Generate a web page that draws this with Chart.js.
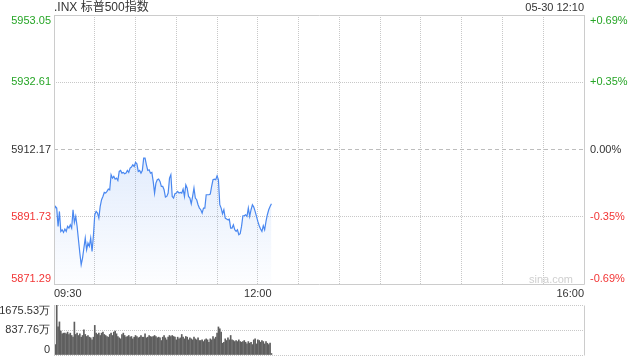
<!DOCTYPE html>
<html>
<head>
<meta charset="utf-8">
<script src="https://cdn.jsdelivr.net/npm/chart.js@4.4.1/dist/chart.umd.min.js"></script>
<style>
  body { margin: 0; background: #fff; font-family: Arial, "Liberation Sans", "Noto Sans CJK SC", sans-serif; }
  #wrap { position: relative; width: 640px; height: 360px; overflow: hidden; }
  #priceBox { position: absolute; left: 0; top: 0; width: 640px; height: 300px; }
  #volBox { position: absolute; left: 0; top: 300px; width: 640px; height: 60px; }
  .txt { position: absolute; font-size: 12px; color: #333; line-height: 14px; white-space: nowrap; }
</style>
</head>
<body>
<div id="wrap">
  <div id="priceBox"><canvas id="priceChart"></canvas></div>
  <div id="volBox"><canvas id="volChart"></canvas></div>
  <div class="txt" style="left:54px;top:0;">.INX 标普500指数</div>
  <div class="txt" style="right:56px;top:0;font-size:11px;">05-30 12:10</div>
  <div class="txt" style="right:67px;top:272px;font-size:11px;color:#cfcfcf;">sina.com</div>
</div>
<script>
// previous close, the 0.00% line
const baseClose = 5912.17;
const priceTicks = [5871.29, 5891.73, 5912.17, 5932.61, 5953.05];
const pctLabels = ["-0.69%", "-0.35%", "0.00%", "+0.35%", "+0.69%"];
// minutes since 09:30
const timeTickMinutes = [0, 150, 390];
const timeTickLabels = ["09:30", "12:00", "16:00"];
const volTicks = [0, 837.76, 1675.53];
const volLabels = ["0", "837.76万", "1675.53万"];

// one value per minute, 09:30 -> 12:10
const prices = [
  5893.55, 5894.87, 5894.36, 5888.80, 5893.35, 5887.28, 5887.78, 5886.97, 5887.99, 5887.28,
  5888.80, 5888.29, 5889.30, 5888.29, 5893.86, 5890.01, 5891.83, 5888.80, 5884.75, 5880.70,
  5877.16, 5879.18, 5882.22, 5885.25, 5881.71, 5883.74, 5882.72, 5885.25, 5881.20, 5885.96,
  5892.34, 5893.35, 5892.85, 5891.33, 5894.87, 5896.90, 5897.91, 5899.12, 5898.92, 5899.43,
  5900.13, 5899.93, 5904.49, 5903.48, 5903.98, 5903.17, 5903.48, 5902.77, 5905.50, 5905.80,
  5904.99, 5905.20, 5904.79, 5904.99, 5905.80, 5905.20, 5906.51, 5906.82, 5907.52, 5907.02,
  5908.23, 5907.83, 5905.50, 5905.80, 5904.99, 5905.80, 5909.55, 5909.55, 5907.52, 5905.80,
  5906.01, 5904.99, 5905.20, 5902.46, 5898.92, 5901.96, 5902.97, 5903.17, 5902.46, 5900.94,
  5900.94, 5899.93, 5897.71, 5897.91, 5898.92, 5903.48, 5904.49, 5897.91, 5897.40, 5898.72,
  5898.92, 5899.43, 5898.92, 5899.12, 5898.92, 5900.13, 5897.91, 5901.45, 5900.44, 5897.91,
  5897.40, 5895.68, 5897.91, 5900.44, 5897.40, 5896.90, 5895.38, 5894.36, 5893.86, 5892.85,
  5894.36, 5894.36, 5898.41, 5898.41, 5898.41, 5898.62, 5900.94, 5902.97, 5903.17, 5902.97,
  5904.18, 5902.97, 5895.38, 5894.36, 5892.64, 5893.86, 5891.33, 5891.02, 5890.82, 5891.02,
  5888.29, 5888.29, 5889.30, 5887.78, 5887.28, 5887.78, 5886.27, 5886.57, 5888.80, 5892.04,
  5892.04, 5892.34, 5891.83, 5894.36, 5891.83, 5893.86, 5895.38, 5894.67, 5893.35, 5891.83,
  5890.32, 5889.00, 5887.99, 5887.28, 5889.00, 5887.78, 5890.32, 5892.34, 5893.86, 5894.87,
  5895.68
];

// volume per minute, in 万
const volumes = [
  1273, 349, 1675, 940, 1109, 805, 710, 733, 733, 710, 766, 688, 733, 654, 597,
  1104, 688, 733, 654, 710, 597, 654, 845, 688, 620, 654, 597, 575, 507, 597,
  992, 733, 688, 733, 654, 733, 766, 688, 654, 620, 597, 688, 733, 654, 766,
  800, 710, 620, 575, 541, 688, 733, 654, 597, 620, 654, 597, 620, 541, 597,
  654, 620, 575, 597, 654, 597, 597, 710, 575, 597, 654, 620, 597, 620, 654,
  620, 575, 597, 575, 485, 597, 654, 575, 507, 597, 654, 620, 654, 620, 597,
  507, 597, 541, 575, 688, 597, 541, 620, 597, 507, 575, 541, 507, 597, 541,
  507, 575, 485, 485, 507, 450, 507, 541, 507, 428, 541, 507, 620, 541, 597,
  733, 940, 879, 766, 394, 428, 541, 485, 575, 507, 654, 507, 485, 450, 485,
  450, 507, 450, 428, 450, 485, 428, 372, 450, 394, 428, 349, 507, 541, 372,
  507, 485, 428, 485, 450, 372, 450, 394, 349, 400, 50
];

const GREEN = "#26a526";
const RED = "#f23535";
const TEXT = "#333";
const GRID = "#c8c8c8";
const FRAME = "#cccccc";
const DOTS = [1, 1];

Chart.defaults.font.family = 'Arial, "Liberation Sans", sans-serif';
Chart.defaults.font.size = 11;

const isBase = (v) => Math.abs(v - baseClose) < 0.001;
const tickColor = (c) => (isBase(c.tick.value) ? TEXT : c.tick.value > baseClose ? GREEN : RED);

// first and last labels sit inside the frame
const edgeLabel = (text, index, count) => {
  if (index === 0) return [text, ""];
  if (index === count - 1) return ["", text];
  return text;
};

const framePlugin = {
  id: "frame",
  afterDatasetsDraw(chart, args, opts) {
    const { ctx, chartArea: a } = chart;
    const l = Math.round(a.left) + 0.5;
    const r = Math.round(a.right) + 0.5;
    const t = Math.round(a.top) + 0.5;
    const b = Math.round(a.bottom) + 0.5;
    ctx.save();
    ctx.strokeStyle = FRAME;
    ctx.lineWidth = 1;
    ctx.beginPath();
    if (opts.top) { ctx.moveTo(l, t); ctx.lineTo(r, t); }
    if (opts.bottom) { ctx.moveTo(l, b); ctx.lineTo(r, b); }
    ctx.moveTo(l, t); ctx.lineTo(l, b);
    ctx.moveTo(r, t); ctx.lineTo(r, b);
    ctx.stroke();
    ctx.restore();
  },
};

const priceChart = new Chart(document.getElementById("priceChart"), {
  type: "line",
  data: {
    datasets: [
      {
        data: prices.map((p, i) => ({ x: i, y: p })),
        borderColor: "#4a88f0",
        borderWidth: 1.2,
        pointRadius: 0,
        tension: 0,
        fill: "start",
        backgroundColor: (c) => {
          const { ctx, chartArea } = c.chart;
          if (!chartArea) return "rgba(74,136,240,0.1)";
          const g = ctx.createLinearGradient(0, chartArea.top + 140, 0, chartArea.bottom);
          g.addColorStop(0, "rgba(74,136,240,0.16)");
          g.addColorStop(1, "rgba(74,136,240,0.01)");
          return g;
        },
      },
    ],
  },
  options: {
    responsive: true,
    maintainAspectRatio: false,
    animation: false,
    layout: { padding: { top: 15 } },
    plugins: {
      legend: { display: false },
      tooltip: { enabled: false },
      frame: { top: true, bottom: true },
    },
    scales: {
      x: {
        type: "linear",
        min: 0,
        max: 390,
        afterFit: (s) => { s.height = 16; },
        grid: { color: GRID, drawTicks: false },
        border: { display: false, dash: DOTS },
        ticks: {
          stepSize: 30,
          autoSkip: false,
          maxRotation: 0,
          align: "inner",
          padding: 3,
          color: TEXT,
          callback: (v) => {
            const k = timeTickMinutes.indexOf(v);
            return k >= 0 ? timeTickLabels[k] : "";
          },
        },
      },
      y: {
        position: "left",
        min: priceTicks[0],
        max: priceTicks[priceTicks.length - 1],
        afterBuildTicks: (s) => { s.ticks = priceTicks.map((v) => ({ value: v })); },
        afterFit: (s) => { s.width = 54; s.paddingTop = 0; s.paddingBottom = 0; },
        grid: {
          drawTicks: false,
          color: (c) => (c.tick && isBase(c.tick.value) ? "#bdbdbd" : GRID),
        },
        border: {
          display: false,
          dash: (c) => (c.tick && isBase(c.tick.value) ? [4, 3] : DOTS),
        },
        ticks: {
          autoSkip: false,
          padding: 3,
          font: { size: 11, lineHeight: 1 },
          color: tickColor,
          callback: (v, i, t) => edgeLabel(priceTicks[i].toFixed(2), i, t.length),
        },
      },
      y2: {
        position: "right",
        min: priceTicks[0],
        max: priceTicks[priceTicks.length - 1],
        afterBuildTicks: (s) => { s.ticks = priceTicks.map((v) => ({ value: v })); },
        afterFit: (s) => { s.width = 56; s.paddingTop = 0; s.paddingBottom = 0; },
        grid: { drawOnChartArea: false, drawTicks: false },
        border: { display: false },
        ticks: {
          autoSkip: false,
          padding: 6,
          font: { size: 11, lineHeight: 1 },
          color: tickColor,
          callback: (v, i, t) => edgeLabel(pctLabels[i], i, t.length),
        },
      },
    },
  },
  plugins: [framePlugin],
});

const volChart = new Chart(document.getElementById("volChart"), {
  type: "bar",
  data: {
    datasets: [
      {
        data: volumes.map((v, i) => ({ x: i, y: v })),
        backgroundColor: "#5e5e5e",
        borderWidth: 0,
        barThickness: 1,
      },
    ],
  },
  options: {
    responsive: true,
    maintainAspectRatio: false,
    animation: false,
    layout: { padding: { top: 5, bottom: 5, right: 56 } },
    plugins: {
      legend: { display: false },
      tooltip: { enabled: false },
      frame: { top: false, bottom: false },
    },
    scales: {
      x: { type: "linear", min: 0, max: 390, offset: false, display: false },
      y: {
        min: volTicks[0],
        max: volTicks[volTicks.length - 1],
        afterBuildTicks: (s) => { s.ticks = volTicks.map((v) => ({ value: v })); },
        afterFit: (s) => { s.width = 54; s.paddingTop = 0; s.paddingBottom = 0; },
        grid: { color: GRID, drawTicks: false },
        border: { display: false, dash: DOTS },
        ticks: {
          autoSkip: false,
          padding: 4,
          font: { size: 11, lineHeight: 1 },
          color: TEXT,
          callback: (v, i, t) => edgeLabel(volLabels[i], i, t.length),
        },
      },
    },
  },
  plugins: [framePlugin],
});
</script>
</body>
</html>
